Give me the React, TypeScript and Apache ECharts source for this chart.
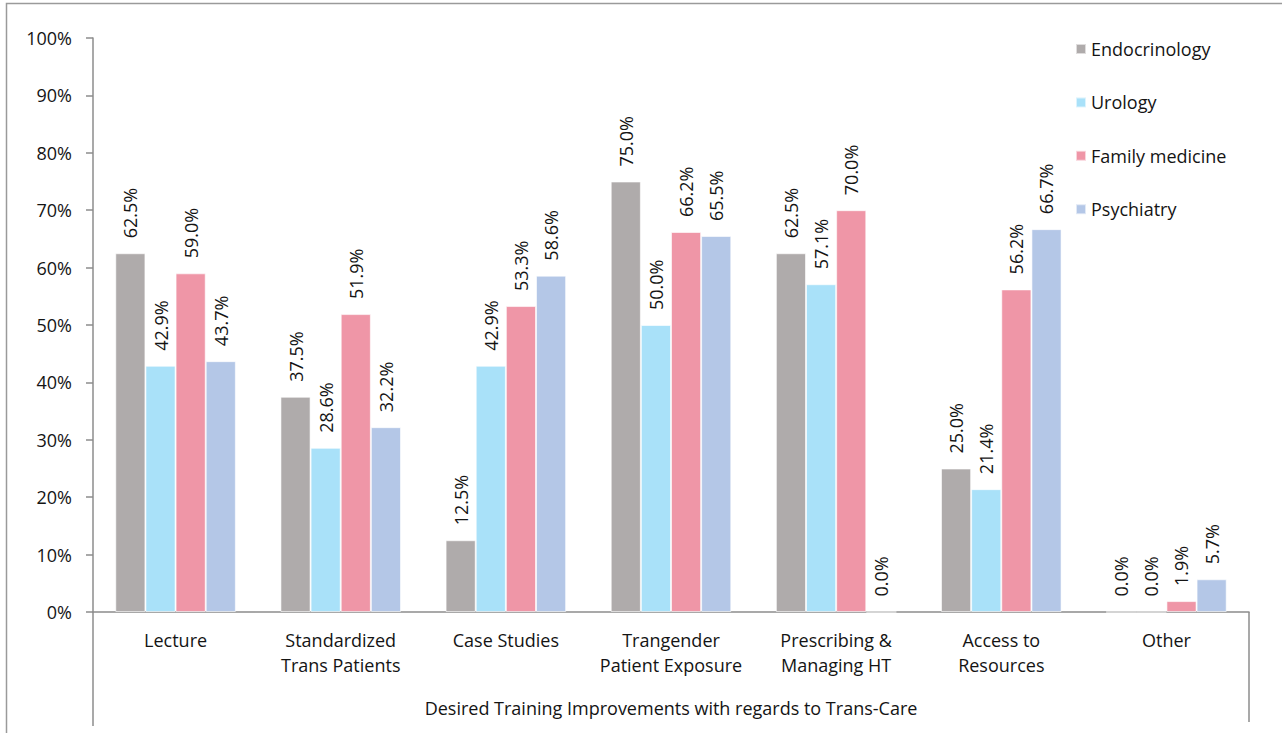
import React, { useEffect, useRef } from "react";
import * as echarts from "echarts";

// Survey results: share of respondents per specialty wanting each training improvement
const categories = [
  "Lecture",
  "Standardized\nTrans Patients",
  "Case Studies",
  "Trangender\nPatient Exposure",
  "Prescribing &\nManaging HT",
  "Access to\nResources",
  "Other",
];
const seriesNames = ["Endocrinology", "Urology", "Family medicine", "Psychiatry"];
const endocrinology = [62.5, 37.5, 12.5, 75.0, 62.5, 25.0, 0.0];
const urology = [42.9, 28.6, 42.9, 50.0, 57.1, 21.4, 0.0];
const familyMedicine = [59.0, 51.9, 53.3, 66.2, 70.0, 56.2, 1.9];
const psychiatry = [43.7, 32.2, 58.6, 65.5, 0.0, 66.7, 5.7];
const colors = ["#AFABAB", "#A9E1F9", "#EF96A7", "#B4C7E7"];
const axisTitle = "Desired Training Improvements with regards to Trans-Care";

const FONT = "'Open Sans', 'Noto Sans', sans-serif";
const TEXT = "#141414";
const LINE = "#8c8c8c";

export default function App() {
  const ref = useRef<HTMLDivElement>(null);

  useEffect(() => {
    if (!ref.current) return;
    const chart = echarts.init(ref.current, null, { renderer: "svg" });
    const values = [endocrinology, urology, familyMedicine, psychiatry];

    const gridLeft = 93;
    const gridRight = 33;
    const gridTop = 38;
    const gridBottom = 121;
    const W = 1282;
    const H = 733;
    const axisY = H - gridBottom;

    chart.setOption({
      animation: false,
      backgroundColor: "#ffffff",
      textStyle: { fontFamily: FONT },
      grid: { left: gridLeft, right: gridRight, top: gridTop, bottom: gridBottom },
      legend: {
        orient: "vertical",
        left: 1070,
        top: 35,
        itemWidth: 10,
        itemHeight: 10,
        itemGap: 35.4,
        icon: "rect",
        data: seriesNames,
        textStyle: { fontFamily: FONT, fontSize: 18, color: TEXT, padding: [0, 0, 0, 0] },
      },
      xAxis: {
        type: "category",
        data: categories,
        name: axisTitle,
        nameLocation: "middle",
        nameGap: 87,
        nameTextStyle: { fontFamily: FONT, fontSize: 18, color: TEXT },
        axisLine: { show: true, lineStyle: { color: LINE, width: 1.5 } },
        axisTick: { show: false },
        axisLabel: {
          interval: 0,
          margin: 15,
          fontFamily: FONT,
          fontSize: 18,
          color: TEXT,
          lineHeight: 25,
        },
      },
      yAxis: {
        type: "value",
        min: 0,
        max: 100,
        interval: 10,
        splitLine: { show: false },
        axisLine: { show: true, lineStyle: { color: LINE, width: 1.5 } },
        axisTick: { show: true, length: 7, lineStyle: { color: LINE, width: 1.5 } },
        axisLabel: {
          formatter: "{value}%",
          margin: 21,
          fontFamily: FONT,
          fontSize: 18,
          color: TEXT,
        },
      },
      series: seriesNames.map((name, i) => ({
        name,
        type: "bar",
        data: values[i],
        barGap: "0%",
        barCategoryGap: "27%",
        itemStyle: { color: colors[i], borderColor: "rgba(255,255,255,0.6)", borderWidth: 1 },
        label: {
          show: true,
          position: "top",
          rotate: 90,
          align: "left",
          verticalAlign: "middle",
          distance: 15,
          fontFamily: FONT,
          fontSize: 18,
          color: TEXT,
          formatter: (p: any) => `${Number(p.value).toFixed(1)}%`,
        },
      })),
      graphic: [
        {
          type: "rect",
          silent: true,
          shape: { x: 6.5, y: 3.5, width: W + 20, height: H + 20 },
          style: { fill: "none", stroke: "#9a9a9a", lineWidth: 1.5 },
        },
        {
          type: "line",
          silent: true,
          shape: { x1: gridLeft, y1: axisY, x2: gridLeft, y2: 726 },
          style: { stroke: LINE, lineWidth: 1.5 },
        },
        {
          type: "line",
          silent: true,
          shape: { x1: W - gridRight, y1: axisY, x2: W - gridRight, y2: 722 },
          style: { stroke: LINE, lineWidth: 1.5 },
        },
      ],
    });

    return () => chart.dispose();
  }, []);

  return (
    <div
      ref={ref}
      style={{ position: "absolute", left: 0, top: 0, width: 1282, height: 733 }}
    />
  );
}
